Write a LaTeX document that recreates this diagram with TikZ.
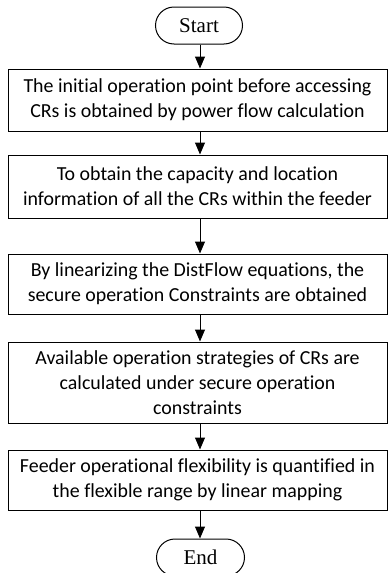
\documentclass[tikz,border=0pt]{standalone}
\usepackage{fontspec}
\setmainfont{Carlito}[RawFeature={-liga}]
\newfontfamily\termfont{Liberation Serif}
\usetikzlibrary{arrows.meta,shapes.misc}
\begin{document}
\begin{tikzpicture}[x=1pt,y=-1pt,
  stepbox/.style={draw, line width=1pt, minimum width=379pt, align=center, inner sep=0pt,
    font=\fontsize{19.9}{25}\selectfont},
  term/.style={draw, line width=1pt, rounded rectangle, minimum width=87pt, minimum height=37pt,
    inner sep=0pt, font=\termfont\fontsize{21}{24}\selectfont},
  conn/.style={line width=1pt, -{Triangle[length=12pt,width=10pt]}}]
\useasboundingbox (0,0) rectangle (388,573);
\node[term] (start) at (199,25.5) {Start};
\node[stepbox, minimum height=62pt] (b1) at (197.5,100) {The initial operation point before accessing\\CRs is obtained by power flow calculation};
\node[stepbox, minimum height=63pt] (b2) at (197.5,186.5) {To obtain the capacity and location\\information of all the CRs within the feeder};
\node[stepbox, minimum height=60pt] (b3) at (197.5,284) {By linearizing the DistFlow equations, the\\secure operation Constraints are obtained};
\node[stepbox, minimum height=81pt] (b4) at (197.5,382.5) {Available operation strategies of CRs are\\calculated under secure operation\\constraints};
\node[stepbox, minimum height=60pt] (b5) at (197.5,480) {Feeder operational flexibility is quantified in\\the flexible range by linear mapping};
\node[term, minimum width=88pt] (end) at (200.5,557.5) {End};
\draw[conn] (start.south -| 200,0) -- (b1.north -| 200,0);
\draw[conn] (b1.south -| 200,0) -- (b2.north -| 200,0);
\draw[conn] (b2.south -| 200,0) -- (b3.north -| 200,0);
\draw[conn] (b3.south -| 200,0) -- (b4.north -| 200,0);
\draw[conn] (b4.south -| 200,0) -- (b5.north -| 200,0);
\draw[conn] (b5.south -| 200,0) -- (end.north -| 200,0);
\end{tikzpicture}
\end{document}
